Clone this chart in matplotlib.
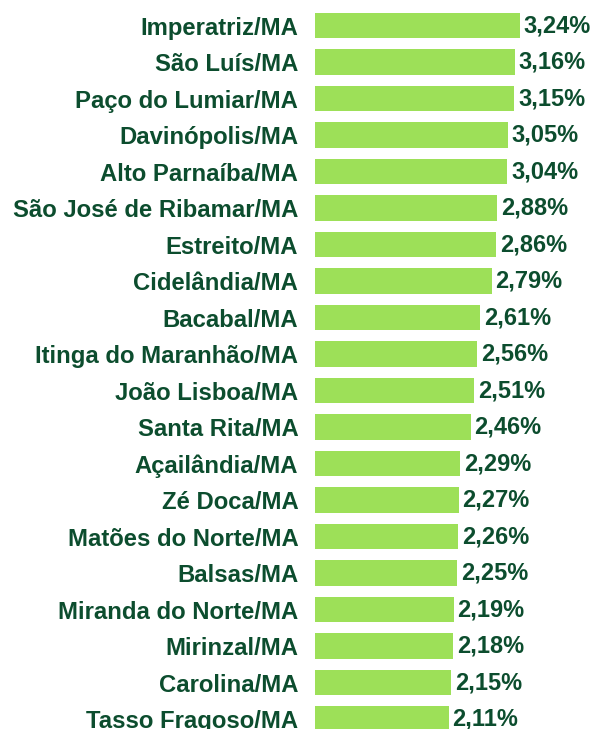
import matplotlib
matplotlib.use("Agg")
import matplotlib.pyplot as plt
import numpy as np

## dados
municipios = ["Imperatriz/MA", "São Luís/MA", "Paço do Lumiar/MA", "Davinópolis/MA",
              "Alto Parnaíba/MA", "São José de Ribamar/MA", "Estreito/MA", "Cidelândia/MA",
              "Bacabal/MA", "Itinga do Maranhão/MA", "João Lisboa/MA", "Santa Rita/MA",
              "Açailândia/MA", "Zé Doca/MA", "Matões do Norte/MA", "Balsas/MA",
              "Miranda do Norte/MA", "Mirinzal/MA", "Carolina/MA", "Tasso Fragoso/MA"]
valores = [3.24, 3.16, 3.15, 3.05, 3.04, 2.88, 2.86, 2.79, 2.61, 2.56,
           2.51, 2.46, 2.29, 2.27, 2.26, 2.25, 2.19, 2.18, 2.15, 2.11]

verde_barra = "#9de058"
verde_texto = "#0c4d2e"

plt.rcParams['font.family'] = ['Liberation Sans', 'DejaVu Sans']

fig = plt.figure(figsize=(5.94, 7.29), dpi=100)
ax = fig.add_axes([315/594, 0, 1 - 315/594, 1])

y = np.arange(len(municipios))
ax.barh(y, valores, height=0.685, color=verde_barra)

for yi, v in zip(y, valores):
    txt = ("%.2f" % v).replace(".", ",") + "%"
    ax.text(v + 0.06, yi, txt, va="center", ha="left", fontsize=17,
            fontweight="bold", color=verde_texto)

ax.set_yticks(y)
ax.set_yticklabels(municipios, fontsize=17.2, fontweight="bold", color=verde_texto)
ax.tick_params(axis="y", length=0, pad=12)
ax.set_xticks([])
ax.set_xlim(0, 279/63.3)
ax.set_ylim((729 - 25.5)/36.5, -25.5/36.5)
for s in ax.spines.values():
    s.set_visible(False)

fig.savefig("out.png", dpi=100)
